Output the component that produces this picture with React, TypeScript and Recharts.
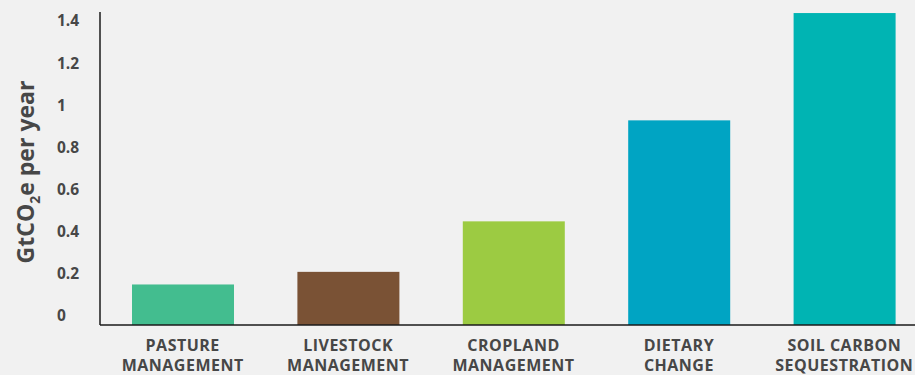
import { Bar, BarChart, Cell, XAxis, YAxis } from "recharts"

const categories = [
  ["PASTURE", "MANAGEMENT"],
  ["LIVESTOCK", "MANAGEMENT"],
  ["CROPLAND", "MANAGEMENT"],
  ["DIETARY", "CHANGE"],
  ["SOIL CARBON", "SEQUESTRATION"],
]
const values = [0.15, 0.21, 0.45, 0.93, 1.44]
const colors = ["#43BD8F", "#7A5235", "#9CCB42", "#00A4C3", "#00B4B3"]
const yTicks = [0, 0.2, 0.4, 0.6, 0.8, 1, 1.2, 1.4]

const FONT = "'Open Sans', Lato, sans-serif"
const INK = "#474747"

const points = categories.map((lines, i) => ({
  key: lines.join(" "),
  lines,
  value: values[i],
}))

function CategoryTick({ x, y, payload }: any) {
  const lines = points[payload.index]?.lines ?? []
  return (
    <text
      x={x}
      y={y}
      textAnchor="middle"
      fill={INK}
      fontFamily={FONT}
      fontWeight={700}
      fontSize={16}
      letterSpacing={0.5}
    >
      {lines.map((l: string, i: number) => (
        <tspan key={i} x={x} dy={i === 0 ? 18 : 20}>
          {l}
        </tspan>
      ))}
    </text>
  )
}

function ValueTick({ y, payload }: any) {
  return (
    <text x={57} y={y} dy={5} textAnchor="start" fill={INK} fontFamily={FONT} fontWeight={700} fontSize={15.5}>
      {String(payload.value)}
    </text>
  )
}

// bars run down to the axis line, which sits a little below the zero label
function BaseBar(props: any) {
  const { x, y, width, background, fill } = props
  const bottom = background.y + background.height
  return <rect x={x} y={y} width={width} height={bottom - y} fill={fill} />
}

export default function App() {
  return (
    <div
      style={{
        position: "absolute",
        left: 0,
        top: 0,
        width: 915,
        height: 375,
        overflow: "hidden",
        background: "#f1f1f1",
      }}
    >
      <BarChart
        width={927}
        height={375}
        data={points}
        margin={{ top: 12, right: 0, left: 0, bottom: 0 }}
        barSize={102}
      >
        <XAxis
          dataKey="key"
          tick={<CategoryTick />}
          tickLine={false}
          axisLine={{ stroke: "#1a1a1a", strokeWidth: 1.5 }}
          height={50}
          interval={0}
        />
        <YAxis
          type="number"
          domain={[-0.0426, 1.445]}
          ticks={yTicks}
          tick={<ValueTick />}
          tickLine={false}
          axisLine={{ stroke: "#1a1a1a", strokeWidth: 1.5 }}
          width={100}
          allowDataOverflow
        />
        <Bar dataKey="value" isAnimationActive={false} shape={<BaseBar />}>
          {points.map((p, i) => (
            <Cell key={p.key} fill={colors[i]} />
          ))}
        </Bar>
        <text
          transform="translate(34 172) rotate(-90)"
          textAnchor="middle"
          fill={INK}
          fontFamily={FONT}
          fontWeight={700}
          fontSize={23}
        >
          GtCO<tspan fontSize={14} dy={6}>2</tspan>
          <tspan dy={-6}>e per year</tspan>
        </text>
      </BarChart>
    </div>
  )
}
